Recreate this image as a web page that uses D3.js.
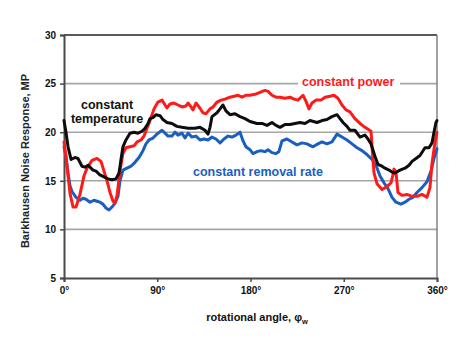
<!DOCTYPE html>
<html><head><meta charset="utf-8">
<script src="https://cdn.jsdelivr.net/npm/d3@7"></script>
<style>html,body{margin:0;padding:0;background:#fff;} svg{display:block;font-family:"Liberation Sans",Arial,sans-serif;}</style>
</head><body>
<script>
// ---- data ----
const tempAngle = [0,1.9,3.9,6.8,10.6,13.5,17.4,20.3,23.2,28,30.9,34.7,38.6,42.5,46.3,50.2,53.1,55,56.9,59.8,63.7,67.6,71.4,75.3,78.2,81.1,83,85.9,88.8,92.7,95.5,99.4,104.2,109,113.9,119.7,126.4,131.3,136.1,139,140.9,142.8,147.7,150.6,153.4,156.3,160.2,165,169.9,174.7,179.5,186.3,191.1,195.9,200.7,204.6,208.5,213.3,218.1,222.9,227.8,232.6,237.4,244.2,249,253.8,258.6,263.5,266.4,269.3,273.1,276,280.8,285.7,290.5,293.4,296.3,300.2,303,306.9,309.8,313.7,316.6,319.4,324.3,329.1,333,335.9,339.7,343.6,348.4,352.3,355.2,357.1,359,360];
const tempValue = [21.2,20.0,18.5,17.2,17.4,17.3,16.5,16.4,16.6,16.1,16.0,15.6,15.4,15.2,15.1,15.2,15.8,17.2,18.5,19.2,19.9,20.0,19.9,20.1,20.4,20.9,21.4,21.5,21.8,21.7,21.3,21.0,20.9,20.6,20.5,20.4,20.4,20.5,20.2,19.8,20.5,21.6,22.0,22.4,22.8,22.2,21.8,21.9,21.6,21.4,21.1,20.9,20.9,20.7,21.0,20.7,20.5,20.8,20.8,20.9,21.0,20.9,21.2,21.0,21.2,21.3,21.6,21.8,21.4,21.0,20.6,20.2,20.2,19.5,19.7,19.3,18.8,17.5,16.7,16.5,16.3,16.1,15.9,15.8,16.1,16.3,16.6,17.0,17.3,17.6,18.4,18.4,18.9,20.0,21.0,21.2];

const powerAngle = [0,1.9,3.9,5.8,8.7,11.6,15.4,19.3,22.2,27,31.8,35.7,38.6,41.5,44.4,47.3,49.2,51.2,54,56.9,59.8,63.7,67.6,70.5,74.3,77.2,80.1,83,86.9,90.7,94.6,97.5,99.4,102.3,106.2,110,113.9,117.7,119.7,122.6,124.5,127.4,130.3,134.1,137,140.9,143.8,147.7,151.5,155.4,160.2,164.1,167.9,171.8,175.6,179.5,184.3,189.2,194,196.9,200.7,204.6,208.5,213.3,218.1,222,225.8,230.7,233.5,236.4,239.3,243.2,248,251.9,256.7,260.6,264.4,268.3,272.2,276,280.8,285.7,290.5,293.4,296.3,297.3,299.2,302.1,306.9,311.7,315.6,317.5,318.5,320.4,322.3,326.2,331,335.9,340.7,345.5,350.3,353.2,355.2,358,360];
const powerValue = [19.0,17.5,15.5,13.7,12.3,12.3,13.6,15.5,16.3,17.1,17.3,17.0,16.0,15.0,13.8,12.9,12.7,13.5,16.0,17.8,18.4,18.5,18.6,19.0,19.2,19.6,20.4,21.2,22.4,23.1,23.3,22.8,22.5,22.9,23.0,22.8,22.6,22.7,23.0,22.6,22.3,23.0,22.6,22.0,21.9,22.4,22.6,23.1,23.3,23.4,23.6,23.7,23.8,23.6,23.8,23.8,23.9,24.1,24.3,24.2,23.8,23.6,23.6,23.5,23.6,23.4,23.3,23.8,23.2,22.4,23.0,23.3,23.3,23.6,23.7,23.8,23.5,22.8,22.3,22.1,21.4,20.9,20.5,20.3,20.1,18.5,15.8,14.7,14.1,14.4,14.8,15.6,16.2,15.9,13.8,13.5,13.6,13.4,13.4,13.6,13.3,14.3,16.8,18.9,20.0];

const removalAngle = [0,1.9,3.9,5.8,7.7,11.6,15.4,18.3,21.2,25.1,29,31.8,34.7,37.6,40.5,43.4,46.3,49.2,52.1,54,56.9,60.8,64.7,68.5,72.4,76.2,79.1,82,85.9,89.7,94.6,97.5,100.4,104.2,107.1,110,113.9,116.8,119.7,123.5,127.4,131.3,135.1,139,142.8,146.7,150.6,154.4,158.3,162.1,166,169.9,172.8,175.6,179.5,182.4,186.3,190.1,194,196.9,200.7,204.6,207.4,210.4,215.2,220,224.9,229.7,234.5,240.3,245.1,249,253.8,258.6,263.5,268.3,273.1,278,282.8,287.6,292.4,297.3,301.1,305,308.8,312.7,316.6,320.4,325.2,329.1,333,336.8,340.7,345.5,350.3,354.2,357.1,360];
const removalValue = [18.5,17.5,15.8,14.5,13.9,13.3,13.0,13.2,13.1,12.8,13.0,12.9,12.8,12.6,12.2,12.0,12.3,12.7,13.4,15.0,16.1,16.3,16.5,16.9,17.4,18.1,18.8,19.2,19.4,19.8,20.2,19.9,19.6,19.6,20.0,19.7,19.9,19.4,19.9,19.5,19.6,19.2,19.3,19.2,19.5,19.3,18.9,19.3,19.6,19.5,19.7,20.0,19.1,18.5,18.2,17.8,18.0,18.1,18.0,18.2,17.9,17.8,18.0,19.1,19.3,19.0,18.7,18.9,18.8,18.5,18.8,19.0,18.8,19.0,19.8,19.5,19.2,18.8,18.4,18.1,17.7,17.2,16.6,15.5,14.8,14.2,13.3,12.8,12.6,12.8,13.1,13.3,13.8,14.3,14.9,16.0,17.3,18.3];

const yTicks = [5,10,15,20,25,30];
const xTicks = [0,90,180,270,360];

// ---- chart ----
const W = 471, H = 343;
const x = d3.scaleLinear().domain([0,360]).range([64,437]);
const y = d3.scaleLinear().domain([5,30]).range([278,35]);

const svg = d3.select("body").append("svg").attr("width",W).attr("height",H);
svg.append("rect").attr("width",W).attr("height",H).attr("fill","#fff");

// gridlines
svg.append("g").selectAll("line").data(yTicks.filter(d=>d>5 && d<30)).join("line")
  .attr("x1",x(0)).attr("x2",x(360)).attr("y1",d=>y(d)).attr("y2",d=>y(d))
  .attr("stroke","#a6a6a6").attr("stroke-width",1.6);
// top line and right border
svg.append("line").attr("x1",x(0)).attr("x2",x(360)).attr("y1",y(30)).attr("y2",y(30))
  .attr("stroke","#5a5a5a").attr("stroke-width",2);
svg.append("line").attr("x1",x(360)).attr("x2",x(360)).attr("y1",y(30)).attr("y2",y(5))
  .attr("stroke","#7a7a7a").attr("stroke-width",1.4);

// axes
const yAxis = d3.axisLeft(y).tickValues(yTicks).tickSize(4).tickPadding(4).tickFormat(d3.format("d"));
const gy = svg.append("g").attr("transform",`translate(${x(0)},0)`).call(yAxis);
const xAxis = d3.axisBottom(x).tickValues(xTicks).tickSize(4).tickPadding(5).tickFormat(d=>d+"°");
const gx = svg.append("g").attr("transform",`translate(0,${y(5)})`).call(xAxis);
[gx,gy].forEach(g=>{
  g.select(".domain").attr("stroke","#4a4a4a").attr("stroke-width",2);
  g.selectAll(".tick line").attr("stroke","#4a4a4a").attr("stroke-width",1.5);
  g.selectAll(".tick text").attr("fill","#111").attr("font-size",10).attr("font-weight","bold")
   .attr("font-family","'Liberation Sans',Arial,sans-serif");
});

// series
const line = d3.line().x(d=>x(d[0])).y(d=>y(d[1])).curve(d3.curveLinear);
const series = [
  {a:removalAngle, v:removalValue, c:"#1a5fc0"},
  {a:powerAngle, v:powerValue, c:"#ff1a1a"},
  {a:tempAngle, v:tempValue, c:"#0d0d0d"}
];
series.forEach(s=>{
  svg.append("path").datum(s.a.map((a,i)=>[a,s.v[i]]))
    .attr("d",line).attr("fill","none").attr("stroke",s.c)
    .attr("stroke-width",3).attr("stroke-linejoin","round").attr("stroke-linecap","round");
});

// labels
const lab = svg.append("g").attr("font-weight","bold").attr("font-size",12.5);
lab.append("rect").attr("x",298).attr("y",76).attr("width",102).attr("height",14).attr("fill","#fff");
lab.append("text").attr("x",302).attr("y",86).attr("fill","#ff1a1a").text("constant power");
lab.append("text").attr("x",107).attr("y",109).attr("text-anchor","middle").attr("fill","#111").text("constant");
lab.append("text").attr("x",107).attr("y",123).attr("text-anchor","middle").attr("fill","#111").text("temperature");
lab.append("text").attr("x",193).attr("y",176).attr("fill","#1a5fc0").text("constant removal rate");

// axis titles
const xt = svg.append("text").attr("x",257).attr("y",321).attr("text-anchor","middle")
  .attr("font-size",11).attr("font-weight","bold").attr("fill","#111");
xt.append("tspan").text("rotational angle, φ");
xt.append("tspan").attr("font-size",7.5).attr("dy",3).text("w");

svg.append("text").attr("transform",`translate(29,161) rotate(-90)`).attr("text-anchor","middle")
  .attr("font-size",11).attr("font-weight","bold").attr("fill","#222")
  .text("Barkhausen Noise Response, MP");
</script>
</body></html>
